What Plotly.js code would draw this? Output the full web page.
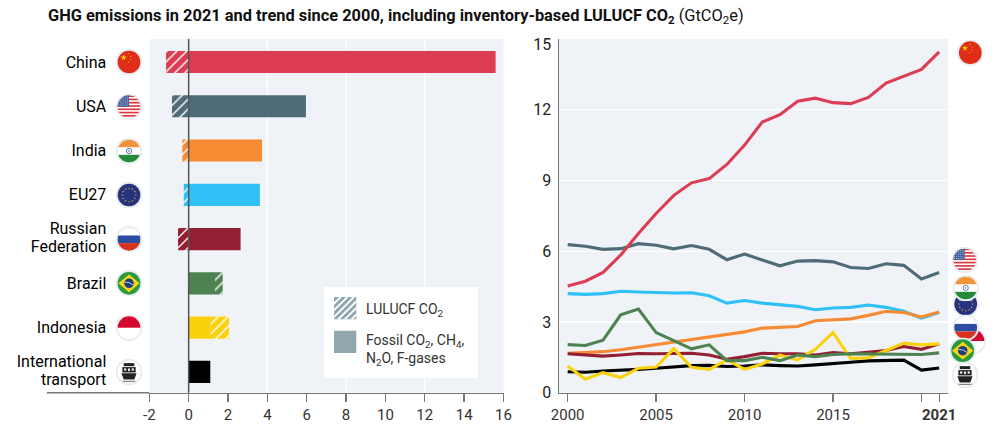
<!DOCTYPE html>
<html><head><meta charset="utf-8">
<script src="https://cdn.plot.ly/plotly-3.0.0.min.js"></script>
<style>html,body{margin:0;padding:0;background:#fff}#c{width:999px;height:434px}</style>
</head><body><div id="c"></div>
<script>
// ---------- data ----------
const categories = ['China','USA','India','EU27','Russian<br>Federation','Brazil','Indonesia','International<br>transport'];
const fossil = [15.6,5.96,3.73,3.62,2.64,1.34,1.13,1.1];
const lulucf = [-1.15,-0.85,-0.32,-0.25,-0.54,0.39,0.92,0];
const colors = ['#dc3d54','#4f6b77','#f68b33','#2fc1f5','#941f32','#4d8251','#fad10d','#000000'];
const years = [2000,2001,2002,2003,2004,2005,2006,2007,2008,2009,2010,2011,2012,2013,2014,2015,2016,2017,2018,2019,2020,2021];
const china = [4.53,4.73,5.10,5.84,6.75,7.60,8.37,8.90,9.08,9.68,10.50,11.48,11.79,12.36,12.49,12.30,12.26,12.52,13.13,13.43,13.71,14.45];
const usa = [6.28,6.21,6.08,6.11,6.32,6.25,6.10,6.24,6.08,5.64,5.88,5.63,5.38,5.58,5.60,5.55,5.31,5.27,5.47,5.40,4.82,5.10];
const india = [1.67,1.70,1.74,1.82,1.93,2.01,2.13,2.24,2.34,2.48,2.58,2.74,2.79,2.81,3.05,3.09,3.13,3.28,3.45,3.40,3.21,3.42];
const eu27 = [4.20,4.17,4.20,4.30,4.27,4.24,4.23,4.24,4.11,3.80,3.91,3.80,3.73,3.66,3.52,3.59,3.62,3.72,3.62,3.45,3.16,3.40];
const russia = [1.65,1.59,1.55,1.60,1.66,1.65,1.66,1.67,1.60,1.42,1.53,1.67,1.65,1.65,1.60,1.70,1.65,1.73,1.79,1.96,1.84,2.07];
const brazil = [2.04,2.00,2.23,3.30,3.55,2.55,2.21,1.86,2.03,1.36,1.36,1.50,1.36,1.60,1.53,1.62,1.65,1.65,1.63,1.63,1.62,1.69];
const indonesia = [1.13,0.57,0.85,0.64,1.04,1.09,1.87,1.08,0.99,1.39,0.99,1.22,1.59,1.39,1.84,2.55,1.45,1.48,1.79,2.10,2.03,2.07];
const intl = [0.89,0.87,0.92,0.94,0.99,1.04,1.11,1.15,1.16,1.11,1.13,1.18,1.15,1.13,1.18,1.25,1.29,1.35,1.38,1.38,0.96,1.05];
const xTicksLeft = [-2,0,2,4,6,8,10,12,14,16];
const xTickTextLeft = ['-2','0','2','4','6','8','10','12','14','16'];
const gridLeft = [4,8,12];
const xTicksRight = [2000,2005,2010,2015,2020,2021];
const xTickTextRight = ['2000','2005','2010','2015','','<b>2021</b>'];
const yTicksRight = [0,3,6,9,12,15];

// ---------- page geometry helpers ----------
const W=999,H=434;
const px=v=>v/W, py=v=>1-v/H;
const FONT='Roboto, sans-serif', TXT='#222';

// ---------- flags ----------
function star(cx,cy,r,fill){let p=[];for(let i=0;i<10;i++){const a=-Math.PI/2+i*Math.PI/5,q=i%2?r*0.4:r;p.push((cx+q*Math.cos(a)).toFixed(2)+','+(cy+q*Math.sin(a)).toFixed(2));}return `<polygon points="${p.join(' ')}" fill="${fill}"/>`;}
const flagBody={
 china:()=>`<rect width="30" height="30" fill="#e02d17"/>`+star(9,10,3.6,'#ffd500')+star(14.5,5.5,1,'#ffd500')+star(17,8.5,1,'#ffd500')+star(17,12,1,'#ffd500')+star(14.5,15,1,'#ffd500'),
 usa:()=>{let s='<rect width="30" height="30" fill="#fff"/>';for(let i=0;i<7;i++)s+=`<rect y="${2.2+i*3.7}" width="30" height="1.85" fill="#e0343c"/>`;s+='<rect width="15" height="15" fill="#44609f"/>';for(let i=0;i<5;i++)for(let j=0;j<5;j++)s+=`<circle cx="${3.5+j*2.4}" cy="${4+i*2.3}" r="0.55" fill="#fff"/>`;return s;},
 india:()=>`<rect width="30" height="30" fill="#fff"/><rect width="30" height="10.7" fill="#f6923a"/><rect y="19.3" width="30" height="11" fill="#268a3c"/><circle cx="15" cy="15" r="3" fill="none" stroke="#4a5a9a" stroke-width="0.9"/><circle cx="15" cy="15" r="0.9" fill="#4a5a9a"/>`,
 eu:()=>{let s='<rect width="30" height="30" fill="#27337f"/>';for(let i=0;i<12;i++){const a=i*Math.PI/6;s+=star(15+7.6*Math.cos(a),15+7.6*Math.sin(a),1.2,'#f0c419');}return s;},
 russia:()=>`<rect width="30" height="30" fill="#fff"/><rect y="10.7" width="30" height="8.6" fill="#2d4da0"/><rect y="19.3" width="30" height="11" fill="#d8321f"/>`,
 brazil:()=>`<rect width="30" height="30" fill="#2a9a3c"/><polygon points="15,5 27,15 15,25 3,15" fill="#f7d417"/><circle cx="15" cy="15" r="5.4" fill="#1d3f80"/><path d="M9.8 13.6 Q15 13 20 17" stroke="#fff" stroke-width="0.8" fill="none"/>`,
 indonesia:()=>`<rect width="30" height="30" fill="#fff"/><rect width="30" height="15" fill="#d4082c"/>`,
 ship:()=>`<rect width="30" height="30" fill="#fff"/><rect x="9" y="5" width="12" height="3.4" fill="#222"/><rect x="7.5" y="9.5" width="15" height="6" fill="#222"/><rect x="9.5" y="11" width="2.4" height="2.4" fill="#fff"/><rect x="18" y="11" width="2.4" height="2.4" fill="#fff"/><rect x="14" y="11" width="2" height="3" fill="#fff"/><polygon points="6.5,16.5 23.5,16.5 21,23.5 9,23.5" fill="#222"/><rect x="5" y="25" width="20" height="0.9" fill="#444"/>`
};
function flagUri(k){
 const svg=`<svg xmlns="http://www.w3.org/2000/svg" width="120" height="120" viewBox="0 0 30 30"><defs><clipPath id="f"><circle cx="15" cy="15" r="12.8"/></clipPath></defs><circle cx="15" cy="15" r="15" fill="#e8edf1"/><g clip-path="url(#f)">${flagBody[k]()}</g></svg>`;
 return 'data:image/svg+xml;base64,'+btoa(svg);
}
const S=26.6;
function flagImage(k,x,y){return {source:flagUri(k),xref:'paper',yref:'paper',x:px(x),y:py(y),sizex:S/W,sizey:S/H,xanchor:'center',yanchor:'middle',sizing:'contain',layer:'above'};}
const leftFlags=[['china',129,62],['usa',129,106.7],['india',129,151],['eu',129,195],['russia',129,239.3],['brazil',129,283.3],['indonesia',129,327.7],['ship',129,372]];
const rightFlags=[['china',970.3,52.7],['usa',964.7,260],['eu',965.7,304],['india',965.7,288],['indonesia',973,341],['russia',965.7,327.7],['brazil',962.7,350.7],['ship',965,375]];

// legend swatches
function swatch(hatched){
 const c='#92a6ad';
 let s=`<svg xmlns="http://www.w3.org/2000/svg" width="90" height="90" viewBox="0 0 22 22"><defs><clipPath id="b"><rect width="22" height="22"/></clipPath></defs><rect width="22" height="22" fill="${c}"/>`;
 if(hatched){s+='<g clip-path="url(#b)" stroke="#fff" stroke-width="1.8">';for(let i=-22;i<44;i+=6.5)s+=`<line x1="${i}" y1="22" x2="${i+22}" y2="0"/>`;s+='</g>';}
 return 'data:image/svg+xml;base64,'+btoa(s+'</svg>');
}
function swatchImage(h,x,y){return {source:swatch(h),xref:'paper',yref:'paper',x:px(x),y:py(y),sizex:22.5/W,sizey:22.5/H,xanchor:'left',yanchor:'top',sizing:'stretch',layer:'above'};}

// ---------- traces ----------
const idx=categories.map((_,i)=>i);
const traces=[
 {type:'bar',orientation:'h',x:fossil,y:idx,width:0.5,name:'Fossil CO2, CH4, N2O, F-gases',marker:{color:colors,line:{width:0}},xaxis:'x',yaxis:'y',showlegend:false}
];
idx.forEach(i=>{ if(lulucf[i]!==0) traces.push({type:'bar',orientation:'h',x:[lulucf[i]],y:[i],width:0.5,name:'LULUCF CO2',xaxis:'x',yaxis:'y',showlegend:false,
  marker:{color:colors[i],line:{width:0},pattern:{shape:'/',fillmode:'overlay',fgcolor:'#ffffff',fgopacity:1,size:7,solidity:0.2}}}); });
[['Intl transport',intl,7],['EU27',eu27,3],['India',india,2],['USA',usa,1],['China',china,0],['Russian Federation',russia,4],['Indonesia',indonesia,6],['Brazil',brazil,5]].forEach(([n,v,c])=>{
 traces.push({type:'scatter',mode:'lines',x:years,y:v,name:n,line:{color:colors[c],width:3.1,shape:'linear'},xaxis:'x2',yaxis:'y2',showlegend:false});
});

// ---------- layout ----------
const tickFont={family:FONT,size:15,color:'#333'};
const AX='#777';
const yDom=[py(392.7),py(39)];
const shapes=gridLeft.map(v=>({type:'line',xref:'x',yref:'paper',x0:v,x1:v,y0:yDom[0],y1:yDom[1],line:{color:'#ffffff',width:1.2},layer:'below'}));
shapes.push({type:'rect',xref:'paper',yref:'paper',x0:px(324),x1:px(478),y0:py(378),y1:py(287),fillcolor:'#fff',line:{width:0},layer:'below'});
shapes.push({type:'line',xref:'paper',yref:'paper',x0:px(47),x1:px(149.3),y0:yDom[0],y1:yDom[0],line:{color:AX,width:1.5}});
shapes.push({type:'line',xref:'x',yref:'paper',x0:0,x1:0,y0:yDom[0],y1:yDom[1],line:{color:'#555',width:1.5},layer:'above'});

const layout={
 width:W,height:H,autosize:false,margin:{l:0,r:0,t:0,b:0},paper_bgcolor:'#fff',plot_bgcolor:'#eff3f7',
 barmode:'relative',showlegend:false,font:{family:FONT,color:TXT},
 xaxis:{domain:[px(149.3),px(503.5)],range:[-2,16],tickvals:xTicksLeft,ticktext:xTickTextLeft,ticks:'outside',ticklen:8,tickwidth:1.3,tickcolor:AX,showgrid:false,zeroline:false,showline:true,linecolor:AX,linewidth:1.5,tickfont:tickFont,anchor:'y'},
 yaxis:{domain:yDom,range:[7.47,-0.52],tickvals:idx,ticktext:categories,ticks:'',showgrid:false,zeroline:false,showline:false,ticklabelstandoff:42,tickfont:{family:FONT,size:16,color:'#000',weight:400},anchor:'x'},
 xaxis2:{domain:[px(559),px(948)],range:[1999.51,2021.5],tickvals:xTicksRight,ticktext:xTickTextRight,ticks:'outside',ticklen:8,tickwidth:1.3,tickcolor:AX,showgrid:false,zeroline:false,showline:true,linecolor:AX,linewidth:1.5,tickfont:tickFont,anchor:'y2'},
 yaxis2:{domain:yDom,range:[0,15],tickvals:yTicksRight,ticks:'',showgrid:true,gridcolor:'#fff',gridwidth:1.2,zeroline:false,showline:true,linecolor:AX,linewidth:1.5,ticklabelstandoff:3,tickfont:{family:FONT,size:16,color:'#222'},anchor:'x2'},
 shapes:shapes,
 images:[...rightFlags.map(f=>flagImage(...f)),...leftFlags.map(f=>flagImage(...f)),swatchImage(true,334,297),swatchImage(false,334,330.5)],
 annotations:[
  {xref:'paper',yref:'paper',x:px(45.5),y:py(16.5),xanchor:'left',yanchor:'middle',showarrow:false,align:'left',
   text:'<b>GHG emissions in 2021 and trend since 2000, including inventory-based LULUCF CO<sub>2</sub></b> (GtCO<sub>2</sub>e)',font:{family:FONT,size:16.4,color:'#111'}},
  {xref:'paper',yref:'paper',x:px(364),y:py(310),xanchor:'left',yanchor:'middle',showarrow:false,align:'left',text:'LULUCF CO<sub>2</sub>',font:{family:FONT,size:14,color:'#333'}},
  {xref:'paper',yref:'paper',x:px(364),y:py(350),xanchor:'left',yanchor:'middle',showarrow:false,align:'left',text:'Fossil CO<sub>2</sub>, CH<sub>4</sub>,<br>N<sub>2</sub>O, F-gases',font:{family:FONT,size:14,color:'#333'}}
 ]
};
Plotly.newPlot('c',traces,layout,{displayModeBar:false,staticPlot:true}).then(()=>{
 // tighter line spacing for the two-line category labels
 document.querySelectorAll('.ytick text').forEach(t=>{
  const lines=t.querySelectorAll('tspan.line');
  if(lines.length>1){lines.forEach((l,i)=>{if(i>0)l.setAttribute('dy','1.1em');});}
 });
 // the "15" label sits just under the top of the axis
 document.querySelectorAll('.y2tick text').forEach(t=>{
  if(t.textContent==='15'){const tr=t.getAttribute('transform')||'';t.setAttribute('transform','translate(0,5) '+tr);}
 });
});
</script></body></html>
